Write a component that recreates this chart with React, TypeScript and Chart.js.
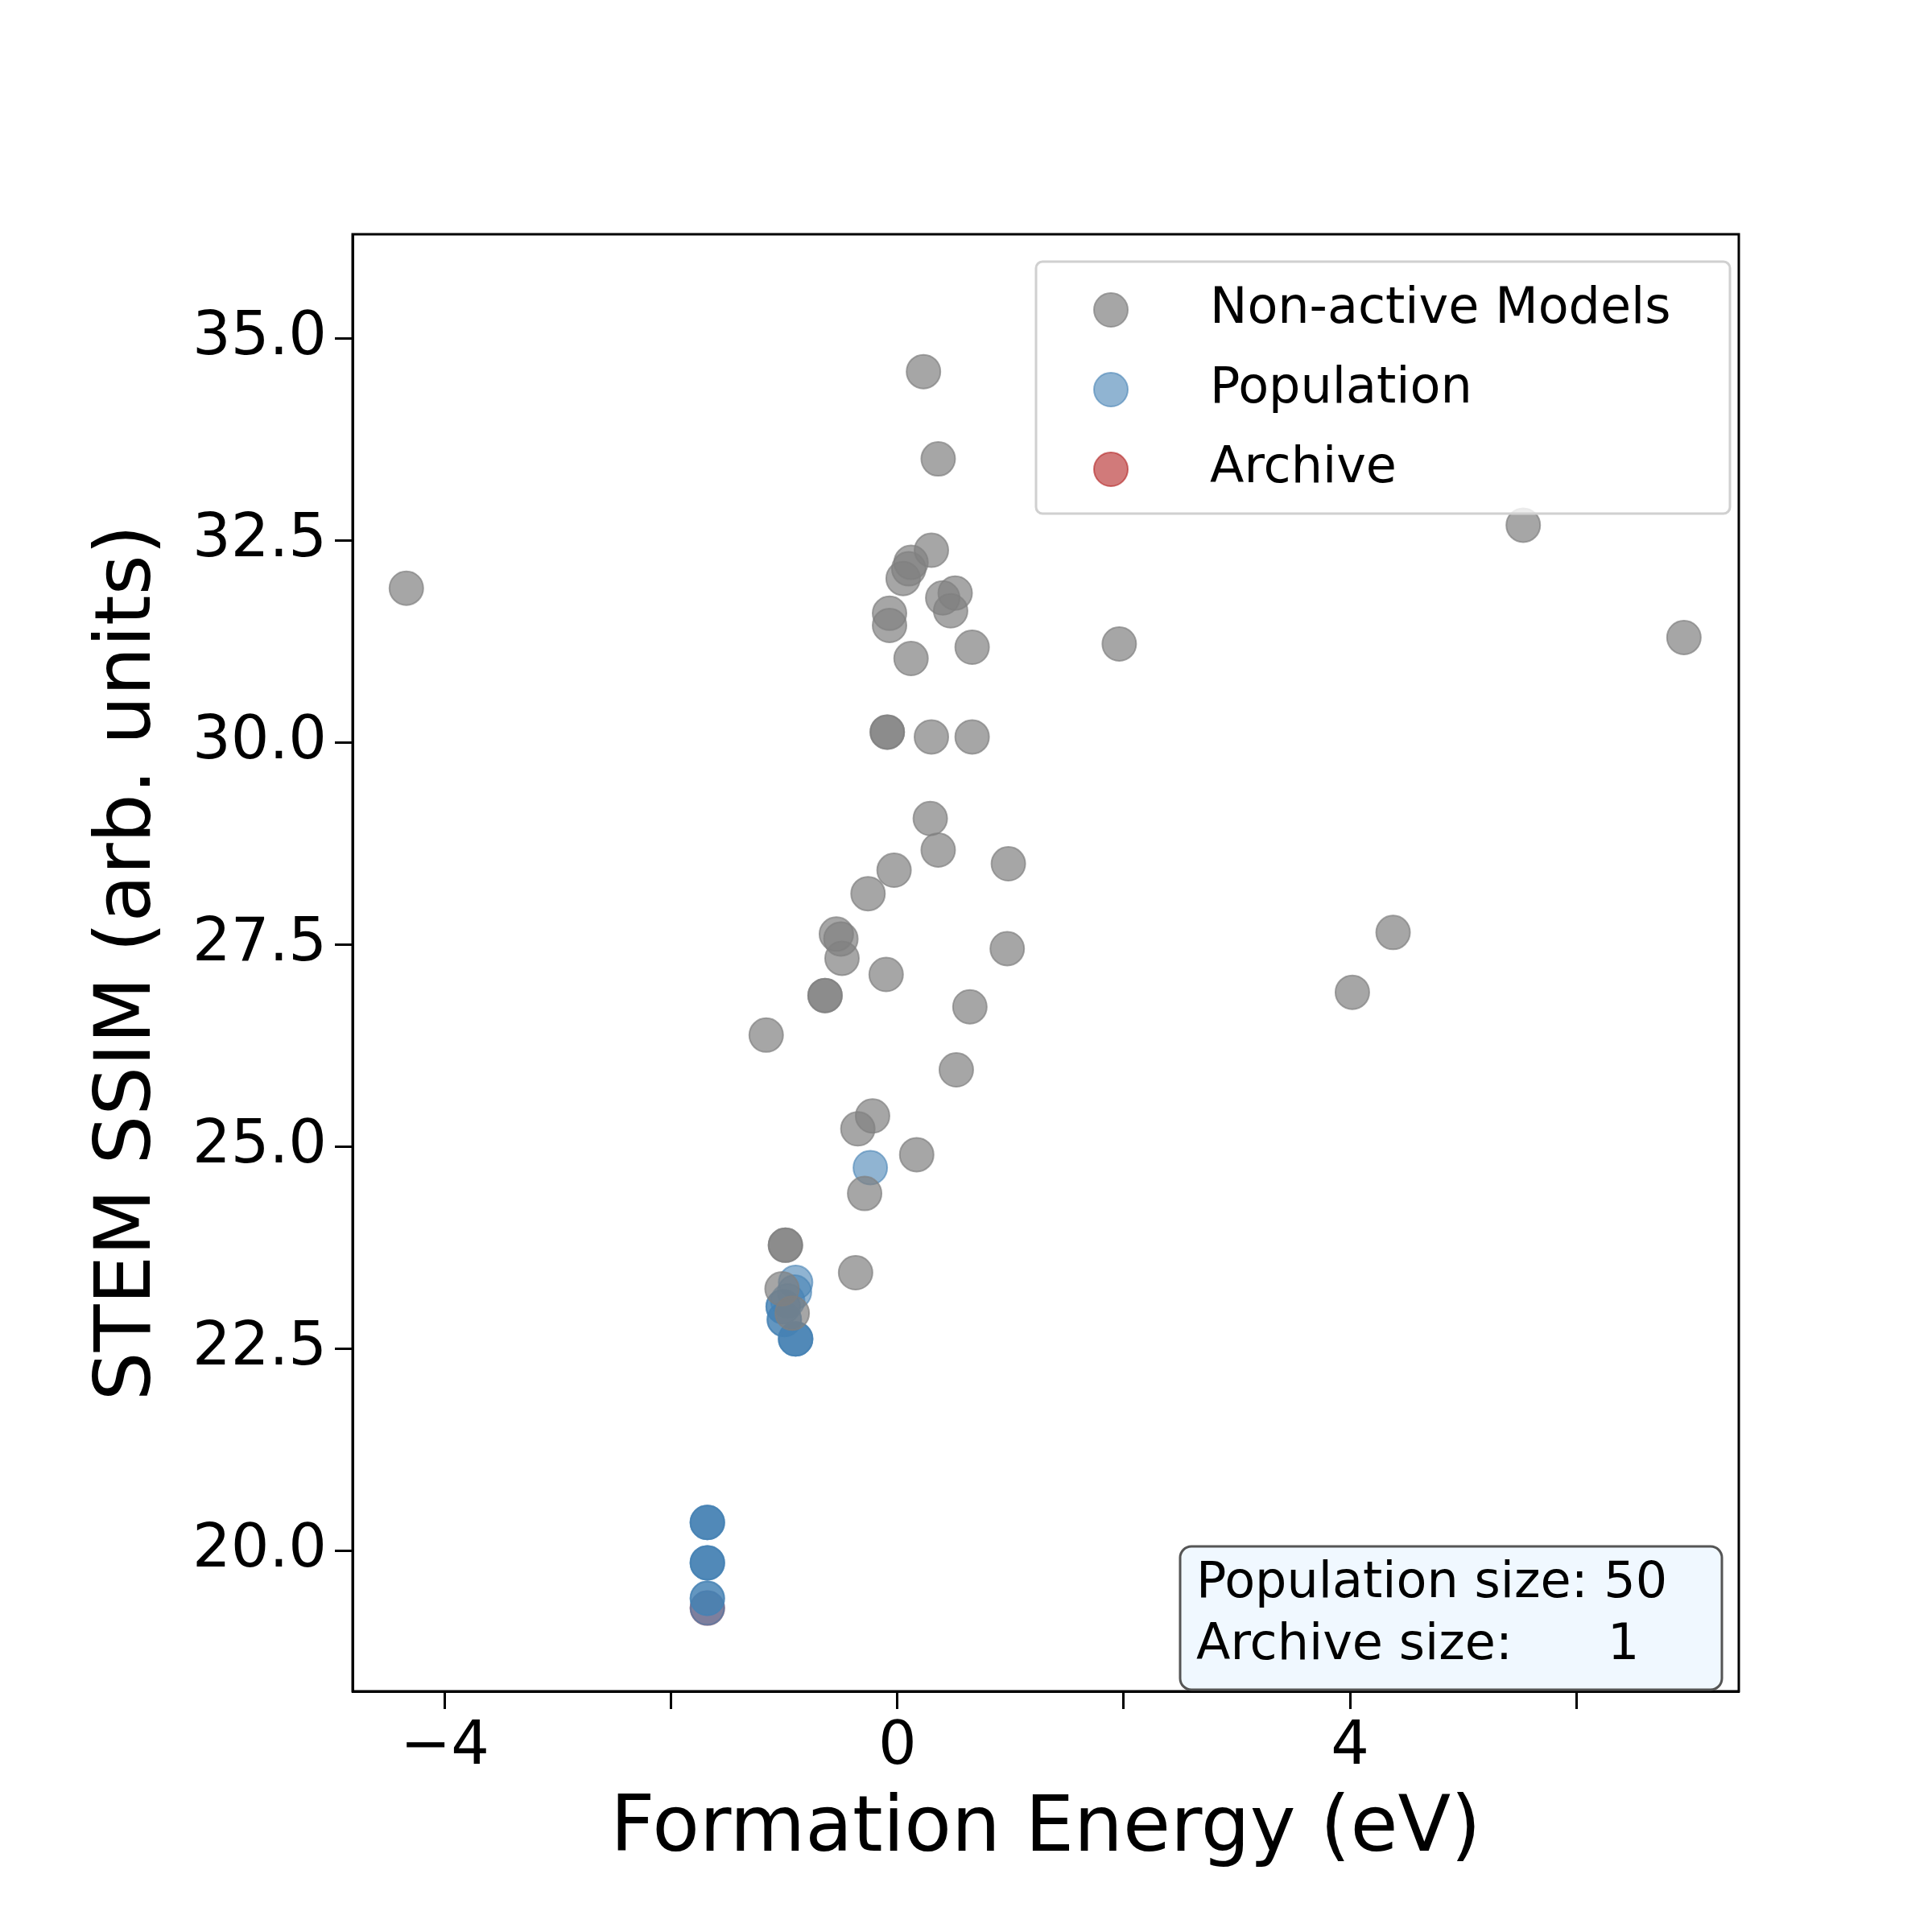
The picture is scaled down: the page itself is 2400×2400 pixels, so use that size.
import { useRef, useEffect } from "react"
import { Chart, registerables } from "chart.js"

Chart.register(...registerables)

const grayX = [-4.34, 0.23, 0.36, 0.30, 0.12, 0.10, 0.05, 0.51, 0.40, 0.47, -0.07, -0.07, 0.66, 0.12, 1.96, 6.95, 5.53, -0.09, -0.09, 0.30, 0.66, 0.29, 0.36, -0.03, 0.98, -0.26, -0.54, -0.50, -0.49, 0.97, -0.10, -0.64, -0.64, 4.38, 4.02, 0.64, -1.16, 0.52, -0.22, -0.35, 0.17, -0.29, -0.37, -0.99, -0.99, -1.02, -0.93]
const grayY = [31.91, 34.59, 33.51, 32.38, 32.23, 32.15, 32.03, 31.85, 31.79, 31.63, 31.60, 31.45, 31.18, 31.04, 31.22, 31.30, 32.69, 30.13, 30.13, 30.07, 30.07, 29.06, 28.67, 28.42, 28.50, 28.13, 27.63, 27.57, 27.33, 27.45, 27.13, 26.87, 26.87, 27.65, 26.91, 26.73, 26.38, 25.95, 25.38, 25.22, 24.90, 24.42, 23.44, 23.78, 23.78, 23.24, 22.94]
const popX = [-0.24, -0.90, -0.91, -0.97, -1.01, -1.00, -1.00, -0.90, -0.90, -0.90, -1.01, -1.68, -1.68, -1.68, -1.68, -1.68, -1.68, -1.68, -1.68, -1.68]
const popY = [24.74, 23.32, 23.20, 23.09, 23.02, 22.86, 22.86, 22.62, 22.62, 22.62, 23.02, 20.35, 20.35, 20.35, 19.85, 19.85, 19.85, 19.41, 19.41, 19.29]
const archX = [-1.68]
const archY = [19.29]

const legendItems = [
  { label: "Non-active Models", color: "rgba(128,128,128,0.7)" },
  { label: "Population", color: "rgba(70,130,180,0.6)" },
  { label: "Archive", color: "rgba(178,34,34,0.6)" },
]
const infoLines = ["Population size: 50", "Archive size:      1"]

const pts = (xs: number[], ys: number[]) => xs.map((x, i) => ({ x, y: ys[i] }))
const FONT = "'DejaVu Sans', sans-serif"

const overlay = {
  id: "overlay",
  afterDraw(chart: any) {
    const ctx = chart.ctx
    const a = chart.chartArea
    ctx.save()
    ctx.strokeStyle = "#000"
    ctx.lineWidth = 3
    ctx.strokeRect(a.left, a.top, a.right - a.left, a.bottom - a.top)
    // legend box
    const lx = 1287, ly = 325, lw = 862, lh = 313
    ctx.beginPath()
    ctx.roundRect(lx, ly, lw, lh, 8)
    ctx.fillStyle = "rgba(255,255,255,0.8)"
    ctx.fill()
    ctx.strokeStyle = "#d0d0d0"
    ctx.lineWidth = 3
    ctx.stroke()
    ctx.font = `62px ${FONT}`
    ctx.textBaseline = "middle"
    legendItems.forEach((it, i) => {
      const cy = 385 + i * 99
      ctx.beginPath()
      ctx.arc(1380, cy, 21, 0, Math.PI * 2)
      ctx.fillStyle = it.color
      ctx.fill()
      ctx.strokeStyle = it.color
      ctx.lineWidth = 2
      ctx.stroke()
      ctx.fillStyle = "#000"
      ctx.fillText(it.label, 1503, cy)
    })
    // info box
    const bx = 1466, by = 1921, bw = 673, bh = 178
    ctx.beginPath()
    ctx.roundRect(bx, by, bw, bh, 14)
    ctx.fillStyle = "#f0f8ff"
    ctx.fill()
    ctx.strokeStyle = "#555"
    ctx.lineWidth = 3
    ctx.stroke()
    ctx.fillStyle = "#000"
    ctx.font = `62px ${FONT}`
    infoLines.forEach((t, i) => ctx.fillText(t, 1486, 1968 + i * 77))
    ctx.restore()
  },
}

export default function App() {
  const canvasRef = useRef<HTMLCanvasElement>(null)

  useEffect(() => {
    document.body.style.margin = "0"
    if (!canvasRef.current) return
    const mk = (data: any[], color: string) => ({
      data,
      backgroundColor: color,
      borderColor: color,
      borderWidth: 2,
      pointRadius: 21,
    })
    const grid = { drawOnChartArea: false, drawTicks: true, tickLength: 22, tickWidth: 3, tickColor: "#000" }
    const chart = new Chart(canvasRef.current, {
      type: "scatter",
      data: {
        datasets: [
          mk(pts(grayX, grayY), "rgba(128,128,128,0.7)"),
          mk(pts(popX, popY), "rgba(70,130,180,0.6)"),
          mk(pts(archX, archY), "rgba(178,34,34,0.6)"),
        ],
      },
      options: {
        animation: false,
        responsive: false,
        devicePixelRatio: 1,
        layout: { padding: { left: 103, top: 291, right: 240, bottom: 0 } },
        plugins: { legend: { display: false }, tooltip: { enabled: false } },
        scales: {
          x: {
            type: "linear",
            min: -4.815,
            max: 7.435,
            grid,
            border: { color: "#000", width: 3 },
            afterBuildTicks: (s: any) => { s.ticks = [-4, -2, 0, 2, 4, 6].map(v => ({ value: v })) },
            afterFit: (s: any) => { s.height = 299 },
            ticks: {
              color: "#000",
              font: { family: FONT, size: 75 },
              padding: 4,
              maxRotation: 0,
              autoSkip: false,
              callback: (v: any) => (v % 4 === 0 ? String(v).replace("-", "\u2212") : ""),
            },
            title: { display: true, text: "Formation Energy (eV)", color: "#000", font: { family: FONT, size: 96 }, padding: { top: 0, bottom: 68 } },
          },
          y: {
            type: "linear",
            min: 18.26,
            max: 36.29,
            grid,
            border: { color: "#000", width: 3 },
            afterBuildTicks: (s: any) => { s.ticks = [20, 22.5, 25, 27.5, 30, 32.5, 35].map(v => ({ value: v })) },
            afterFit: (s: any) => { s.width = 335 },
            ticks: {
              color: "#000",
              font: { family: FONT, size: 75 },
              padding: 10,
              callback: (v: any) => Number(v).toFixed(1),
            },
            title: { display: true, text: "STEM SSIM (arb. units)", color: "#000", font: { family: FONT, size: 96 }, padding: 0 },
          },
        },
      },
      plugins: [overlay],
    })
    return () => chart.destroy()
  }, [])

  return (
    <div style={{ width: 2400, height: 2400, background: "#fff" }}>
      <canvas ref={canvasRef} width={2400} height={2400}></canvas>
    </div>
  )
}
